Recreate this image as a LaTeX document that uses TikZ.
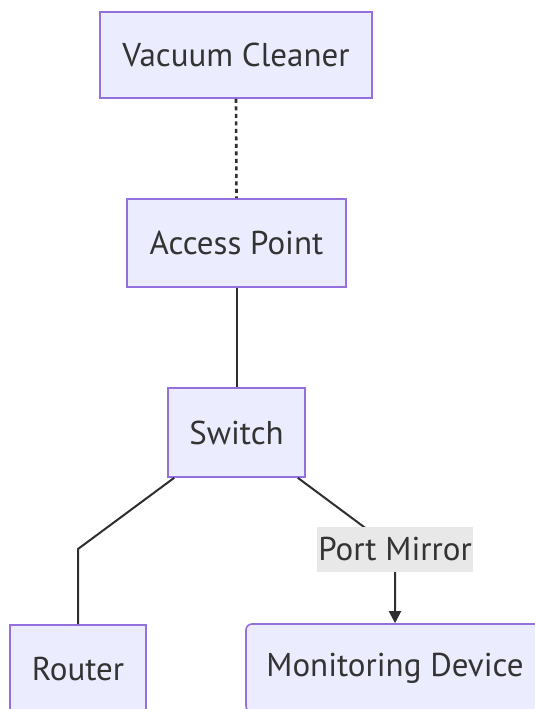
\documentclass[tikz,border=0pt]{standalone}
\usepackage{fontspec}
\setmainfont{PT Sans}
\usetikzlibrary{calc,arrows.meta}
\definecolor{nodefill}{HTML}{ECECFF}
\definecolor{nodeborder}{HTML}{9370DB}
\definecolor{txt}{HTML}{333333}
\definecolor{lblfill}{HTML}{E8E8E8}
\tikzset{
  box/.style={draw=nodeborder, fill=nodefill, line width=1.6pt, text=txt,
    font=\fontsize{33}{38}\selectfont, inner sep=0pt, anchor=center},
  edge/.style={draw=txt!90!black, line width=2pt},
  elabel/.style={fill=lblfill, text=txt,
    font=\fontsize{33}{38}\selectfont, inner sep=0pt, minimum width=156pt, minimum height=45pt}
}
\begin{document}
\begin{tikzpicture}[x=1pt,y=-1pt]
\useasboundingbox (0,0) rectangle (535,709);
\clip (0,0) rectangle (535,709);
\node[box, minimum width=272pt, minimum height=86pt] (vac) at (236,55) {Vacuum Cleaner};
\node[box, minimum width=219pt, minimum height=88pt] (ap) at (236.5,243) {Access Point};
\node[box, minimum width=137pt, minimum height=89pt] (sw) at (236.5,432.5) {Switch};
\node[box, minimum width=136pt, minimum height=88pt] (rt) at (78,669) {Router};
\node[box, rounded corners=6pt, minimum width=298pt, minimum height=88pt] (mon) at (395,668) {Monitoring Device};
\coordinate (bend) at (78,549);
\coordinate (mid) at (395,550);
\draw[edge, line width=2.6pt, dash pattern=on 4pt off 3.5pt] (vac.south) -- (ap.north);
\draw[edge] (ap.south) -- (sw.north);
\draw[edge] ($(sw.south west)+(7,0)$) -- (bend) -- (rt.north);
\draw[edge, -{Triangle[length=12pt,width=12pt]}] ($(sw.south east)+(-8,0)$) -- (mid) -- (mon.north);
\node[elabel] (lbl) at (395,549.5) {Port Mirror};
\end{tikzpicture}
\end{document}
